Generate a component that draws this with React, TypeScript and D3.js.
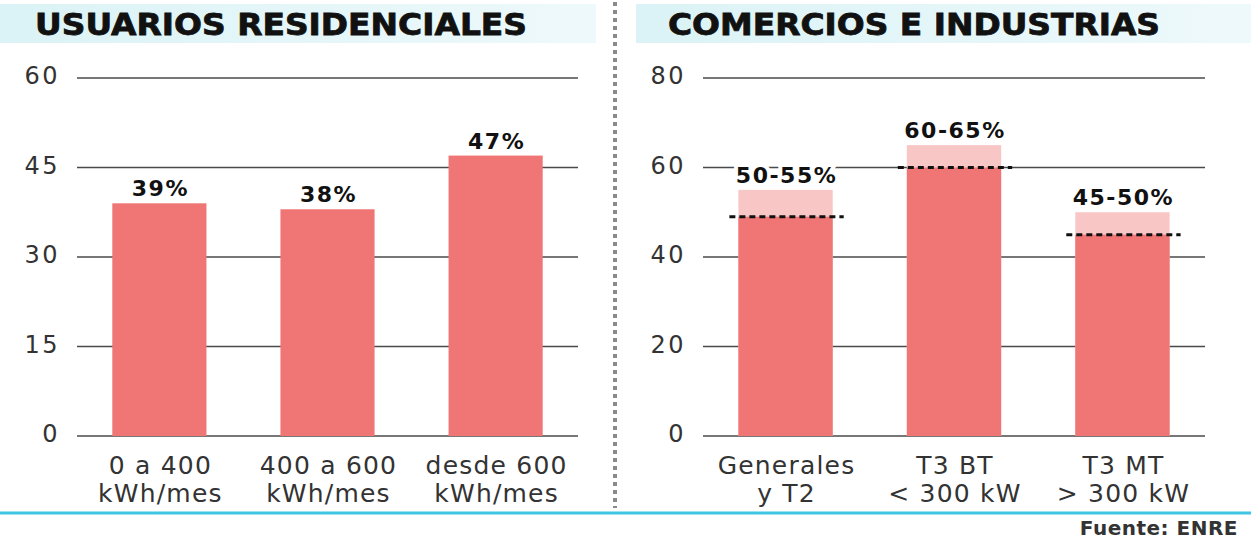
import React, { useEffect, useRef } from "react";
import * as d3 from "d3";

// residential users
const resCategories = ["0 a 400\nkWh/mes", "400 a 600\nkWh/mes", "desde 600\nkWh/mes"];
const resValues = [39, 38, 47];
const resLabels = ["39%", "38%", "47%"];
const resTicks = [0, 15, 30, 45, 60];

// commerce and industry (range low-high)
const comCategories = ["Generales\ny T2", "T3 BT\n< 300 kW", "T3 MT\n> 300 kW"];
const comLow = [49, 60, 45];
const comHigh = [55, 65, 50];
const comLabels = ["50-55%", "60-65%", "45-50%"];
const comTicks = [0, 20, 40, 60, 80];

const W = 1251;
const H = 541;
const SOLID = "#f07676";
const LIGHT = "#f9c6c6";
const FONT = "'DejaVu Sans', Verdana, sans-serif";

export default function App() {
  const ref = useRef<SVGSVGElement | null>(null);

  useEffect(() => {
    const svg = d3.select(ref.current);
    svg.selectAll("*").remove();

    const defs = svg.append("defs");
    const grad = defs.append("linearGradient").attr("id", "band");
    grad.append("stop").attr("offset", "0%").attr("stop-color", "#dbf3f6");
    grad.append("stop").attr("offset", "100%").attr("stop-color", "#eef9fb");

    svg.append("rect").attr("width", W).attr("height", H).attr("fill", "#fff");

    // title bands
    svg.append("rect").attr("x", 0).attr("y", 4).attr("width", 596).attr("height", 39).attr("fill", "url(#band)");
    svg.append("rect").attr("x", 636).attr("y", 4).attr("width", W - 636).attr("height", 39).attr("fill", "url(#band)");

    const title = (x: number, t: string) =>
      svg.append("text")
        .attr("x", x).attr("y", 35)
        .attr("textLength", 492).attr("lengthAdjust", "spacingAndGlyphs")
        .style("font-family", FONT)
        .style("font-weight", 700)
        .style("font-size", "30px")
        .attr("fill", "#111").attr("stroke", "#111").attr("stroke-width", 0.8)
        .text(t);
    title(35, "USUARIOS RESIDENCIALES");
    title(668, "COMERCIOS E INDUSTRIAS");

    // divider
    svg.append("line")
      .attr("x1", 615).attr("x2", 615).attr("y1", 2).attr("y2", 508)
      .attr("stroke", "#8a8a8a").attr("stroke-width", 4).attr("stroke-dasharray", "4 4");

    // bottom rule + source
    svg.append("line")
      .attr("x1", 0).attr("x2", W).attr("y1", 513).attr("y2", 513)
      .attr("stroke", "#3fc4e2").attr("stroke-width", 3);
    svg.append("text")
      .attr("x", 1238).attr("y", 535).attr("text-anchor", "end")
      .style("font-family", FONT).style("font-weight", 700).style("font-size", "20px")
      .style("letter-spacing", "0.5px")
      .attr("fill", "#333").text("Fuente: ENRE");

    const panel = (
      x0: number, x1: number, ticks: number[], cats: string[],
      low: number[], high: number[] | null, labels: string[]
    ) => {
      const g = svg.append("g");
      const y = d3.scaleLinear().domain([0, d3.max(ticks) as number]).range([436, 78]);
      const x = d3.scaleBand<string>().domain(cats).range([x0, x1]).paddingInner(0.44).paddingOuter(0.21);

      // grid
      g.selectAll("line.grid").data(ticks).enter().append("line")
        .attr("x1", x0).attr("x2", x1)
        .attr("y1", (d) => y(d)).attr("y2", (d) => y(d))
        .attr("stroke", "#4a4a4a").attr("stroke-width", 1.5);
      g.selectAll("text.tick").data(ticks).enter().append("text")
        .attr("x", x0 - 17).attr("y", (d) => y(d) + 6)
        .attr("text-anchor", "end")
        .style("font-family", FONT).style("font-size", "24px")
        .style("letter-spacing", "2.5px")
        .attr("fill", "#333").text((d) => d);

      // bars
      if (high) {
        g.selectAll("rect.hi").data(high).enter().append("rect")
          .attr("x", (d, i) => x(cats[i]) as number).attr("width", x.bandwidth())
          .attr("y", (d) => y(d)).attr("height", (d) => y(0) - y(d))
          .attr("fill", LIGHT);
      }
      g.selectAll("rect.lo").data(low).enter().append("rect")
        .attr("x", (d, i) => x(cats[i]) as number).attr("width", x.bandwidth())
        .attr("y", (d) => y(d)).attr("height", (d) => y(0) - y(d))
        .attr("fill", SOLID);
      if (high) {
        g.selectAll("line.dash").data(low).enter().append("line")
          .attr("x1", (d, i) => (x(cats[i]) as number) - 9)
          .attr("x2", (d, i) => (x(cats[i]) as number) + x.bandwidth() + 11)
          .attr("y1", (d) => y(d)).attr("y2", (d) => y(d))
          .attr("stroke", "#111").attr("stroke-width", 3).attr("stroke-dasharray", "6 4");
      }

      // value labels
      const tops = high || low;
      g.selectAll("text.val").data(labels).enter().append("text")
        .attr("x", (d, i) => (x(cats[i]) as number) + x.bandwidth() / 2 + 1)
        .attr("y", (d, i) => y(tops[i]) - 7)
        .attr("text-anchor", "middle")
        .style("font-family", FONT).style("font-weight", 700).style("font-size", "22px")
        .style("letter-spacing", "1.5px")
        .attr("fill", "#111")
        .attr("stroke", "#fff").attr("stroke-width", 8).attr("paint-order", "stroke")
        .text((d) => d);

      // category labels
      cats.forEach((c) => {
        const t = g.append("text")
          .attr("text-anchor", "middle")
          .style("font-family", FONT).style("font-size", "25px")
          .style("letter-spacing", "1.2px")
          .attr("fill", "#333");
        c.split("\n").forEach((line, j) => {
          t.append("tspan")
            .attr("x", (x(c) as number) + x.bandwidth() / 2 + 1)
            .attr("y", 474 + j * 28)
            .text(line);
        });
      });
    };

    panel(77, 578, resTicks, resCategories, resValues, null, resLabels);
    panel(703, 1205, comTicks, comCategories, comLow, comHigh, comLabels);
  }, []);

  return (
    <svg ref={ref} width={W} height={H} style={{ position: "absolute", left: 0, top: 0 }} />
  );
}
